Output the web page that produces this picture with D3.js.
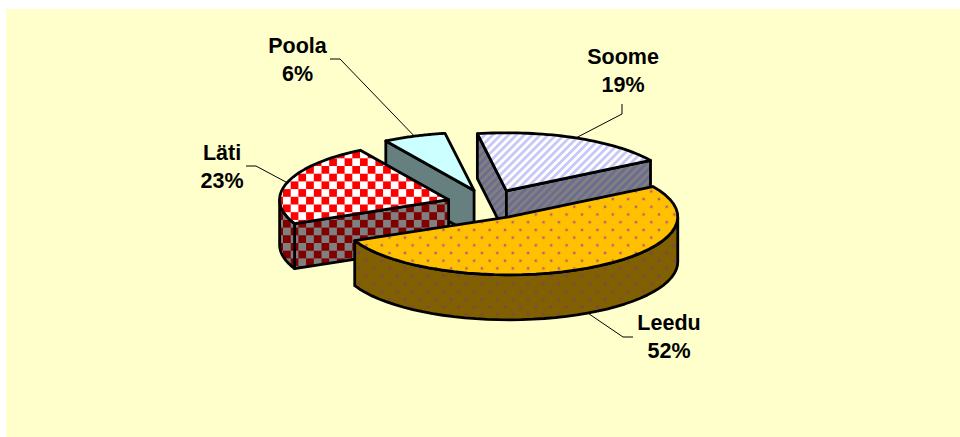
<!DOCTYPE html>
<meta charset="utf-8">
<style>
  html, body { margin: 0; padding: 0; background: #fff; }
  svg { display: block; }
  .label { font: bold 21.5px "Liberation Sans", Arial, sans-serif; fill: #000; text-anchor: middle; }
  .leader { fill: none; stroke: #000; stroke-width: 1; }
  .edge { stroke: #000; stroke-width: 2.8; stroke-linejoin: round; }
</style>
<body>
<script src="https://d3js.org/d3.v7.min.js"></script>
<script>

var categories = ["Leedu", "Läti", "Poola", "Soome"];
var shares = [52, 23, 6, 19];
var labels = ["52%", "23%", "6%", "19%"];

var width = 960, height = 437;
var cx = 489, cy = 204, rx = 169, ry = 58, depth = 45, explode = 0.25;

var x = d3.scaleLinear().domain([-1, 1]).range([cx - rx, cx + rx]);
var y = d3.scaleLinear().domain([-1, 1]).range([cy - ry, cy + ry]);

// label text centre, first baseline, elbow of the leader line
var labelPos = [
  {x: 669, y: 330, elbow: [[633, 337], [623, 337]]},
  {x: 222, y: 160, elbow: [[246, 166], [256, 166]]},
  {x: 297.5, y: 53, elbow: [[330, 59], [340, 59]]},
  {x: 623, y: 64, elbow: [[622, 104], [622, 114]]}
];

var svg = d3.select("body").append("svg")
  .attr("width", width)
  .attr("height", height);

svg.append("rect")
  .attr("x", 6).attr("y", 9)
  .attr("width", width - 6).attr("height", height - 9)
  .attr("fill", "#ffffcc");

var defs = svg.append("defs");

function checker(id, a, b) {
  var p = defs.append("pattern").attr("id", id).attr("patternUnits", "userSpaceOnUse")
    .attr("width", 15.4).attr("height", 15.4).attr("x", 5.8).attr("y", 4.3);
  p.append("rect").attr("width", 15.4).attr("height", 15.4).attr("fill", a);
  p.append("rect").attr("width", 7.7).attr("height", 7.7).attr("fill", b);
  p.append("rect").attr("x", 7.7).attr("y", 7.7).attr("width", 7.7).attr("height", 7.7).attr("fill", b);
}
function dots(id, a, b) {
  var p = defs.append("pattern").attr("id", id).attr("patternUnits", "userSpaceOnUse")
    .attr("width", 15.4).attr("height", 15.4).attr("x", 8.35).attr("y", 10.45);
  p.append("rect").attr("width", 15.4).attr("height", 15.4).attr("fill", a);
  p.append("rect").attr("x", 2.65).attr("y", 2.65).attr("width", 2.4).attr("height", 2.4).attr("fill", b);
  p.append("rect").attr("x", 10.35).attr("y", 10.35).attr("width", 2.4).attr("height", 2.4).attr("fill", b);
}
function stripes(id, a, b) {
  var p = defs.append("pattern").attr("id", id).attr("patternUnits", "userSpaceOnUse")
    .attr("width", 5.6).attr("height", 5.6).attr("patternTransform", "rotate(45)");
  p.append("rect").attr("width", 5.6).attr("height", 5.6).attr("fill", a);
  p.append("rect").attr("width", 2.8).attr("height", 5.6).attr("fill", b);
}

checker("latiTop", "#ffffff", "#ff0000");
checker("latiWall", "#808080", "#800000");
dots("leeduTop", "#ffc000", "#b0607a");
dots("leeduWall", "#806000", "#804068");
stripes("soomeTop", "#ffffff", "#c8c8f8");
stripes("soomeWall", "#808080", "#6c6c90");

var tops = ["url(#leeduTop)", "url(#latiTop)", "#ccffff", "url(#soomeTop)"];
var walls = ["url(#leeduWall)", "url(#latiWall)", "#668080", "url(#soomeWall)"];

var startAngle = Math.PI / 3 - 0.026;

var pie = d3.pie().sort(null)
  .startAngle(startAngle)
  .endAngle(startAngle + 2 * Math.PI);

// pie angle 0 is at 12 o'clock, turn it so 0 is east
var slices = pie(shares).map(function(d, i) {
  var t0 = d.startAngle - Math.PI / 2, t1 = d.endAngle - Math.PI / 2, mid = (t0 + t1) / 2;
  return {
    i: i, t0: t0, t1: t1, mid: mid,
    ox: explode * Math.cos(mid), oy: explode * Math.sin(mid)
  };
});

var line = d3.line();

function rim(s, t) {
  return [x(s.ox + Math.cos(t)), y(s.oy + Math.sin(t))];
}
function apex(s) {
  return [x(s.ox), y(s.oy)];
}
function arcPoints(s, a, b) {
  return d3.range(41).map(function(k) { return rim(s, a + (b - a) * k / 40); });
}
function drop(p) {
  return [p[0], p[1] + depth];
}
function wallPath(pts) {
  return line(pts.concat(pts.map(drop).reverse())) + "Z";
}

// back to front
var order = [2, 3, 1, 0];

order.forEach(function(i) {
  var s = slices[i];
  var g = svg.append("g");

  if (Math.sin(s.t0 - Math.PI / 2) > 0) {
    g.append("path").attr("class", "edge").attr("fill", walls[i])
      .attr("d", wallPath([apex(s), rim(s, s.t0)]));
  }
  if (Math.sin(s.t1 + Math.PI / 2) > 0) {
    g.append("path").attr("class", "edge").attr("fill", walls[i])
      .attr("d", wallPath([apex(s), rim(s, s.t1)]));
  }
  // outer wall, only the part facing us
  var a = Math.max(s.t0, 0), b = Math.min(s.t1, Math.PI);
  if (b > a) {
    g.append("path").attr("class", "edge").attr("fill", walls[i])
      .attr("d", wallPath(arcPoints(s, a, b)));
  }
  g.append("path").attr("class", "edge").attr("fill", tops[i])
    .attr("d", line([apex(s)].concat(arcPoints(s, s.t0, s.t1))) + "Z");
});

slices.forEach(function(s, i) {
  var pos = labelPos[i];
  var start = rim(s, s.mid);
  if (Math.sin(s.mid) > 0 && Math.cos(s.mid) > 0) start = drop(start);

  svg.append("path").attr("class", "leader")
    .attr("d", line(pos.elbow.concat([start])));

  svg.append("text").attr("class", "label").attr("x", pos.x).attr("y", pos.y).text(categories[i]);
  svg.append("text").attr("class", "label").attr("x", pos.x).attr("y", pos.y + 28).text(labels[i]);
});

</script>
</body>
